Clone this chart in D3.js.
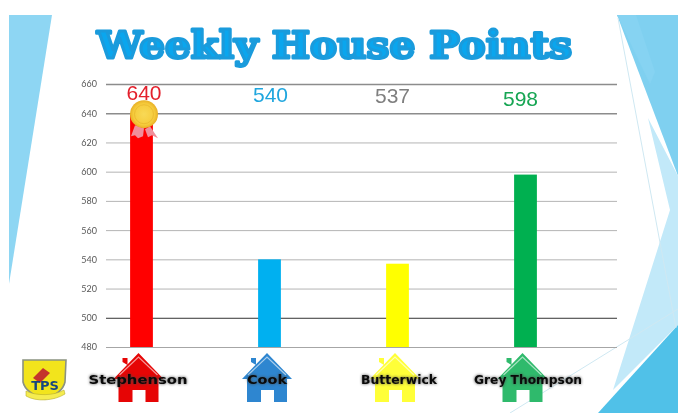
<!DOCTYPE html>
<html>
<head>
<meta charset="utf-8">
<script src="https://cdn.jsdelivr.net/npm/d3@7"></script>
<style>
    html, body { margin: 0; padding: 0; background: #fff; overflow: hidden; }
    svg { display: block; filter: blur(0.4px); }
</style>
</head>
<body>
<div id="chart"></div>
<script>
const houses = ["Stephenson", "Cook", "Butterwick", "Grey Thompson"];
const points = [640, 540, 537, 598];
const barColors = ["#ff0000", "#00b0f0", "#ffff00", "#00b050"];
const valueColors = ["#e3202c", "#1fa6de", "#7f7f7f", "#16a553"];
const houseColors = ["#e60505", "#2e86d0", "#ffff38", "#2fba6c"];
const yTicks = [480, 500, 520, 540, 560, 580, 600, 620, 640, 660];

const W = 678, H = 413;
const margin = { top: 84, right: 61, bottom: 66, left: 106 };
const width = W - margin.left - margin.right;
const height = H - margin.top - margin.bottom;

const svg = d3.select("#chart").append("svg")
    .attr("width", W)
    .attr("height", H);

// slide background shapes
const shapes = [
    { d: "M9,15 L52,15 L9,284 Z", fill: "#8ed6f3" },
    { d: "M617,15 L678,15 L678,176 Z", fill: "#7fd0f0" },
    { d: "M617,15 L636,15 L655,72 L650,84 Z", fill: "#86d3f2" },
    { d: "M648,118 L678,176 L678,325 L613,390 L670,210 Z", fill: "#c2e9f9" },
    { d: "M678,325 L678,413 L598,413 Z", fill: "#50c1e8" }
];
svg.selectAll("path.shape")
    .data(shapes)
    .enter()
    .append("path")
    .attr("class", "shape")
    .attr("d", d => d.d)
    .attr("fill", d => d.fill);

svg.append("path")
    .attr("d", "M618,18 L676,328 M678,309 L510,413")
    .attr("fill", "none")
    .attr("stroke", "#cfe8f2")
    .attr("stroke-width", 1);

// title
svg.append("text")
    .attr("x", 97)
    .attr("y", 58)
    .attr("textLength", 475)
    .attr("lengthAdjust", "spacingAndGlyphs")
    .style("font-family", "'DejaVu Serif'")
    .style("font-weight", "bold")
    .style("font-size", "38px")
    .style("fill", "#0aa6ee")
    .style("stroke", "#1a9bdc")
    .style("stroke-width", 3)
    .style("stroke-linejoin", "round")
    .text("Weekly House Points");

const g = svg.append("g")
    .attr("transform", `translate(${margin.left}, ${margin.top})`);

const yScale = d3.scaleLinear()
    .domain([480, 660])
    .range([height, 0]);

// the bars sit left of the grid centre in the original, so the band range is its own
const xScale = d3.scaleBand()
    .domain(houses)
    .range([77.5 - margin.left, 589.5 - margin.left])
    .paddingInner(0.822)
    .paddingOuter(0.411);

const gridColor = d => d >= 640 ? "#8c8c8c" : d === 500 ? "#333" : d === 480 ? "#a6a6a6" : "#b4b4b4";

const yAxis = d3.axisLeft(yScale)
    .tickValues(yTicks)
    .tickSize(-width)
    .tickPadding(9);

g.append("g")
    .call(yAxis)
    .call(a => a.select(".domain").remove())
    .call(a => a.selectAll(".tick line")
        .attr("stroke", gridColor)
        .attr("stroke-width", d => d >= 640 ? 1.4 : 1))
    .call(a => a.selectAll(".tick text")
        .attr("fill", "#595959")
        .style("font-family", "Lato")
        .style("font-size", "9px"));

const data = houses.map((h, i) => ({ house: h, value: points[i], i: i }));

g.selectAll("rect.bar")
    .data(data)
    .enter()
    .append("rect")
    .attr("class", "bar")
    .attr("x", d => xScale(d.house))
    .attr("y", d => yScale(d.value))
    .attr("width", xScale.bandwidth())
    .attr("height", d => height - yScale(d.value))
    .attr("fill", d => barColors[d.i]);

// value labels were placed by hand on the slide
const labelOffsets = [[2.5, 100], [1, 102], [-5, 103], [-5, 106]];
svg.selectAll("text.value")
    .data(data)
    .enter()
    .append("text")
    .attr("class", "value")
    .attr("x", d => margin.left + xScale(d.house) + xScale.bandwidth() / 2 + labelOffsets[d.i][0])
    .attr("y", d => labelOffsets[d.i][1])
    .attr("text-anchor", "middle")
    .attr("fill", d => valueColors[d.i])
    .style("font-family", "'Liberation Sans'")
    .style("font-size", "21px")
    .text(d => d.value);

// medal on the winner
const winner = data[d3.greatestIndex(points)];
const medalX = margin.left + xScale(winner.house) + xScale.bandwidth() / 2 + 2.5;
const medalY = margin.top + yScale(winner.value) + 1;
const defs = svg.append("defs");
const medalGrad = defs.append("radialGradient").attr("id", "medalGrad");
medalGrad.append("stop").attr("offset", "0%").attr("stop-color", "#f8d956");
medalGrad.append("stop").attr("offset", "75%").attr("stop-color", "#f6cc3c");
medalGrad.append("stop").attr("offset", "100%").attr("stop-color", "#e8b026");

const medal = svg.append("g").attr("transform", `translate(${medalX}, ${medalY})`);
medal.append("path")
    .attr("d", "M-9,11 L-13,22 L-9,21 L-6,24 L-1,22 L0,14 Z M6,12 L1,15 L4,23 L8,21 L14,24 Z")
    .attr("fill", "#f08f9a");
medal.append("circle")
    .attr("r", 14)
    .attr("fill", "url(#medalGrad)");
medal.append("circle")
    .attr("r", 9.5)
    .attr("fill", "none")
    .attr("stroke", "#ecbc32")
    .attr("stroke-width", 1);

// house icons with names on top
const houseCentres = [138.5, 267, 395, 522.5];
const housePath = "M0,-26 L25,0 L20,0 L20,23 L7,23 L7,11 L-6,11 L-6,23 L-20,23 L-20,0 L-25,0 Z M-16,-17 L-16,-21 L-11,-21 L-11,-14 Z";

const icon = svg.selectAll("g.house")
    .data(data)
    .enter()
    .append("g")
    .attr("class", "house")
    .attr("transform", d => `translate(${houseCentres[d.i]}, 379)`);

icon.append("path")
    .attr("d", housePath)
    .attr("fill", d => houseColors[d.i]);

icon.append("path")
    .attr("d", "M-19,-4 L0,-22 L19,-4")
    .attr("fill", "none")
    .attr("stroke", "#fff")
    .attr("stroke-opacity", 0.6)
    .attr("stroke-width", 1.2);

// house names are slightly off the icon centres on the slide
const nameCentres = [138, 267, 399, 528];
const nameWidths = [99, 40, 76, 108];
svg.selectAll("text.name")
    .data(data)
    .enter()
    .append("text")
    .attr("class", "name")
    .attr("x", d => nameCentres[d.i] - nameWidths[d.i] / 2)
    .attr("y", 384)
    .attr("textLength", d => nameWidths[d.i])
    .attr("lengthAdjust", "spacingAndGlyphs")
    .attr("fill", "#0a0a0a")
    .style("font-family", "'DejaVu Sans'")
    .style("font-weight", "bold")
    .style("font-size", "12px")
    .style("filter", "drop-shadow(0 0 1.5px #444)")
    .text(d => d.house);

// school badge
const badge = svg.append("g").attr("transform", "translate(44, 379)");
badge.append("path")
    .attr("d", "M-21,-19 L22,-19 L21,3 C19,12 10,17 1,20 C-9,17 -19,12 -21,3 Z")
    .attr("fill", "#f2e41c")
    .attr("stroke", "#8b9280")
    .attr("stroke-width", 1.6);
badge.append("path")
    .attr("d", "M-11,-1 L-1,-11 L6,-6 L-4,4 Z")
    .attr("fill", "#c4342c");
badge.append("text")
    .attr("x", 1)
    .attr("y", 11)
    .attr("text-anchor", "middle")
    .attr("fill", "#17457f")
    .style("font-family", "'DejaVu Sans'")
    .style("font-weight", "bold")
    .style("font-size", "13px")
    .text("TPS");
badge.append("path")
    .attr("d", "M-18,12 C-8,17 10,17 20,11 L21,15 C10,22 -8,23 -18,17 Z")
    .attr("fill", "#f5ec50")
    .attr("stroke", "#b8ae2a")
    .attr("stroke-width", 0.6);
</script>
</body>
</html>
